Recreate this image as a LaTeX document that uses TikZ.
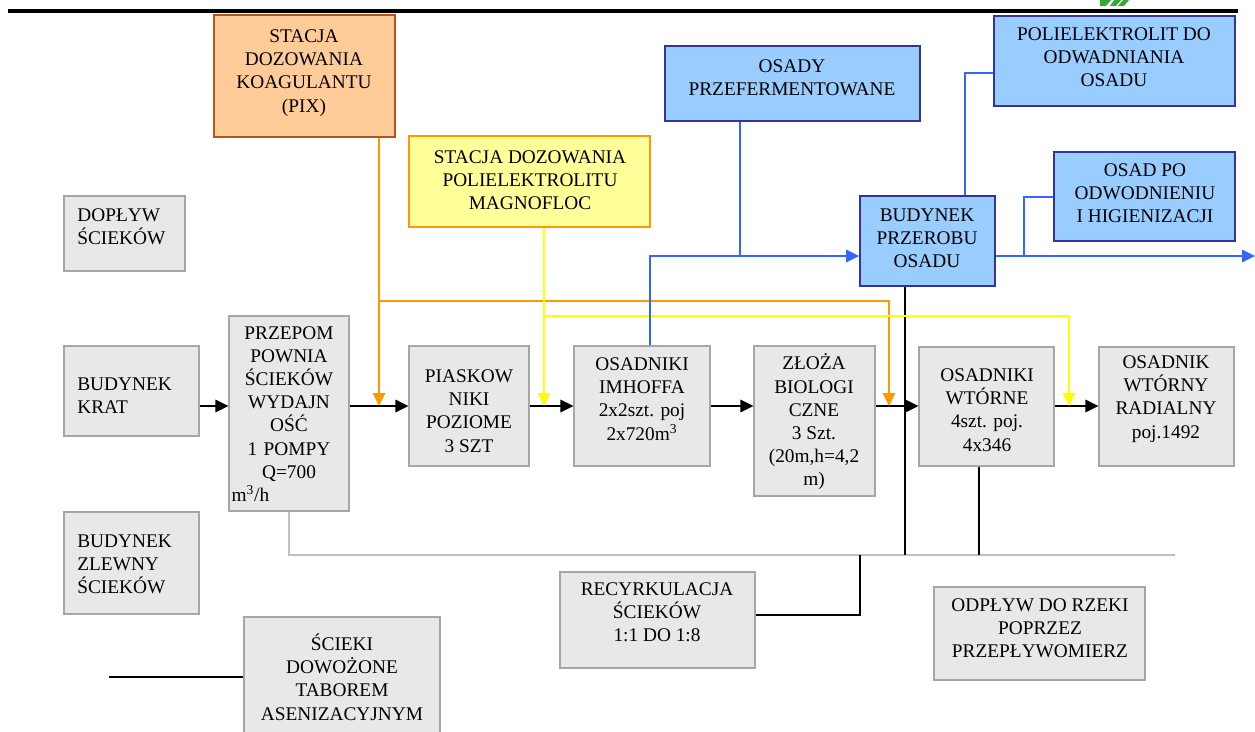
\documentclass[tikz,border=0pt]{standalone}
\usepackage{fontspec}
\setmainfont{Liberation Serif}
\usetikzlibrary{arrows.meta,fit,calc}
\definecolor{gfill}{HTML}{E8E8E8}
\definecolor{gdraw}{HTML}{A6A6A6}
\definecolor{bfill}{HTML}{99CCFF}
\definecolor{bdraw}{HTML}{333399}
\definecolor{ofill}{HTML}{FFCC99}
\definecolor{odraw}{HTML}{B5541C}
\definecolor{yfill}{HTML}{FFFF99}
\definecolor{ydraw}{HTML}{FF9900}
\definecolor{oline}{HTML}{FF9900}
\definecolor{yline}{HTML}{FFFF00}
\definecolor{bline}{HTML}{3366FF}
\definecolor{glline}{HTML}{C0C0C0}
\definecolor{leaf}{HTML}{33AA33}
\begin{document}
\begin{tikzpicture}[x=0.02cm,y=-0.02cm,
  box/.style={inner sep=0pt, line width=0.6pt},
  gbox/.style={box, draw=gdraw, fill=gfill},
  bbox/.style={box, draw=bdraw, fill=bfill, line width=0.9pt},
  obox/.style={box, draw=odraw, fill=ofill, line width=0.9pt},
  ybox/.style={box, draw=ydraw, fill=yfill, line width=0.9pt},
  txt/.style={align=center, font=\fontsize{11}{13.2}\selectfont, inner sep=0pt},
  ltxt/.style={align=left, font=\fontsize{11}{13.2}\selectfont, inner sep=0pt, anchor=west},
  tip/.style={-{Triangle[length=7.4pt,width=7.2pt]}},
  flow/.style={tip, line width=0.6pt, black},
  oconn/.style={line width=0.6pt, oline},
  yconn/.style={line width=0.6pt, yline},
  bconn/.style={line width=0.6pt, bline},
  kconn/.style={line width=0.6pt, black},
  gconn/.style={line width=0.6pt, glline}]
\useasboundingbox (0,0) rectangle (1255,731);

% top rule and logo fragment
\draw[line width=2.3pt] (8,11) -- (1238,11);
\fill[leaf] (1100,0) -- (1111,0) -- (1106,6) -- (1100,6) -- cycle;
\fill[leaf] (1114,0) -- (1121,0) -- (1116,6) -- (1110,6) -- cycle;
\fill[leaf] (1123,0) -- (1129,0) -- (1124,6) -- (1118,6) -- cycle;

% boxes
\node[obox, fit={(214,15) (395,137)}] (koag) {};
\node[ybox, fit={(409,136) (650,227)}] (magno) {};
\node[bbox, fit={(665,46) (920,121)}] (osady) {};
\node[bbox, fit={(994,16) (1235,106)}] (poli) {};
\node[bbox, fit={(1054,152) (1235,241)}] (osadpo) {};
\node[bbox, fit={(860,196) (995,286)}] (przerob) {};
\node[gbox, fit={(64,196) (185,271)}] (doplyw) {};
\node[gbox, fit={(64,346) (199,436)}] (krat) {};
\node[gbox, fit={(64,512) (199,614)}] (zlewny) {};
\node[gbox, fit={(229,316) (349,511)}] (pomp) {};
\node[gbox, fit={(409,346) (529,466)}] (piask) {};
\node[gbox, fit={(574,346) (710,466)}] (imhoff) {};
\node[gbox, fit={(754,346) (875,496)}] (zloza) {};
\node[gbox, fit={(919,347) (1054,466)}] (wtorne) {};
\node[gbox, fit={(1099,347) (1234,466)}] (radial) {};
\node[gbox, fit={(560,572) (755,668)}] (recyrk) {};
\node[gbox, fit={(934,587) (1145,680)}] (odplyw) {};
\node[gbox, fit={(244,617) (440,745)}] (scieki) {};

% texts
\node[txt] (koagT) at (304,73) {STACJA\\DOZOWANIA\\KOAGULANTU\\(PIX)};
\node[txt] (magnoT) at (530,180) {STACJA DOZOWANIA\\POLIELEKTROLITU\\MAGNOFLOC};
\node[txt] (osadyT) at (792,78) {OSADY\\PRZEFERMENTOWANE};
\node[txt] (poliT) at (1114,57) {POLIELEKTROLIT DO\\ODWADNIANIA\\OSADU};
\node[txt] (osadpoT) at (1145,193) {OSAD PO\\ODWODNIENIU\\I HIGIENIZACJI};
\node[txt] (przerobT) at (927,238) {BUDYNEK\\PRZEROBU\\OSADU};
\node[ltxt] (doplywT) at (77,227) {DOPŁYW\\ŚCIEKÓW};
\node[ltxt] (kratT) at (77,396) {BUDYNEK\\KRAT};
\node[ltxt] (zlewnyT) at (77,564) {BUDYNEK\\ZLEWNY\\ŚCIEKÓW};
\node[txt, text width=2.3cm] (pompT) at (289,414) {PRZEPOM\\POWNIA\\ŚCIEKÓW\\WYDAJN\\OŚĆ\\1 POMPY\\Q=700\\\makebox[\linewidth][l]{m\textsuperscript{3}/h}};
\node[txt] (piaskT) at (469,411) {PIASKOW\\NIKI\\POZIOME\\3 SZT};
\node[txt] (imhoffT) at (642,399) {OSADNIKI\\IMHOFFA\\2x2szt. poj\\2x720m\textsuperscript{3}};
\node[txt] (zlozaT) at (814,422) {ZŁOŻA\\BIOLOGI\\CZNE\\3 Szt.\\(20m,h=4,2\\m)};
\node[txt] (wtorneT) at (987,410) {OSADNIKI\\WTÓRNE\\4szt. poj.\\4x346};
\node[txt] (radialT) at (1166,399) {OSADNIK\\WTÓRNY\\RADIALNY\\poj.1492};
\node[txt] (recyrkT) at (657,612) {RECYRKULACJA\\ŚCIEKÓW\\1:1 DO 1:8};
\node[txt] (odplywT) at (1040,628) {ODPŁYW DO RZEKI\\POPRZEZ\\PRZEPŁYWOMIERZ};
\node[txt] (sciekiT) at (342,677) {ŚCIEKI\\DOWOŻONE\\TABOREM\\ASENIZACYJNYM};

% helper coordinates
\coordinate (fy) at (0,406);
\coordinate (oX) at (379,0);
\coordinate (oX2) at (889,0);
\coordinate (oY) at (0,301);
\coordinate (yX) at (544,0);
\coordinate (yX2) at (1069,0);
\coordinate (yY) at (0,316);
\coordinate (bX1) at (740,0);
\coordinate (bY) at (0,256);
\coordinate (imX) at (650,0);
\coordinate (pX) at (965,0);
\coordinate (pY) at (0,73);
\coordinate (qX) at (1024,0);
\coordinate (qY) at (0,197);
\coordinate (outR) at (1255,256);
\coordinate (blX) at (905,0);
\coordinate (wX) at (979,0);
\coordinate (gY) at (0,555);
\coordinate (gEnd) at (1175,555);
\coordinate (rX) at (860,0);
\coordinate (rY) at (0,615);
\coordinate (lStart) at (109,677);

% lower return lines
\draw[gconn] (pomp.south) -- (pomp.south |- gY) -- (gEnd);
\draw[kconn] (blX |- przerob.south) -- (blX |- gY);
\draw[kconn] (wX |- wtorne.south) -- (wX |- gY);
\draw[kconn] (rX |- gY) -- (rX |- rY) -- (recyrk.east |- rY);
\draw[kconn] (lStart) -- (scieki.west |- lStart);

% main flow
\draw[flow] (krat.east |- fy) -- (pomp.west |- fy);
\draw[flow] (pomp.east |- fy) -- (piask.west |- fy);
\draw[flow] (piask.east |- fy) -- (imhoff.west |- fy);
\draw[flow] (imhoff.east |- fy) -- (zloza.west |- fy);
\draw[flow] (zloza.east |- fy) -- (wtorne.west |- fy);
\draw[flow] (wtorne.east |- fy) -- (radial.west |- fy);

% coagulant (orange)
\draw[oconn, tip] (oX |- koag.south) -- (oX |- fy);
\draw[oconn, tip] (oX |- oY) -- (oX2 |- oY) -- (oX2 |- fy);
% polyelectrolyte (yellow)
\draw[yconn, tip] (yX |- magno.south) -- (yX |- fy);
\draw[yconn, tip] (yX |- yY) -- (yX2 |- yY) -- (yX2 |- fy);

% sludge (blue)
\draw[bconn] (bX1 |- osady.south) -- (bX1 |- bY);
\draw[bconn, tip] (imX |- imhoff.north) -- (imX |- bY) -- (przerob.west |- bY);
\draw[bconn] (pX |- przerob.north) -- (pX |- pY) -- (poli.west |- pY);
\draw[bconn, tip] (przerob.east |- bY) -- (outR);
\draw[bconn] (qX |- bY) -- (qX |- qY) -- (osadpo.west |- qY);
\end{tikzpicture}
\end{document}
